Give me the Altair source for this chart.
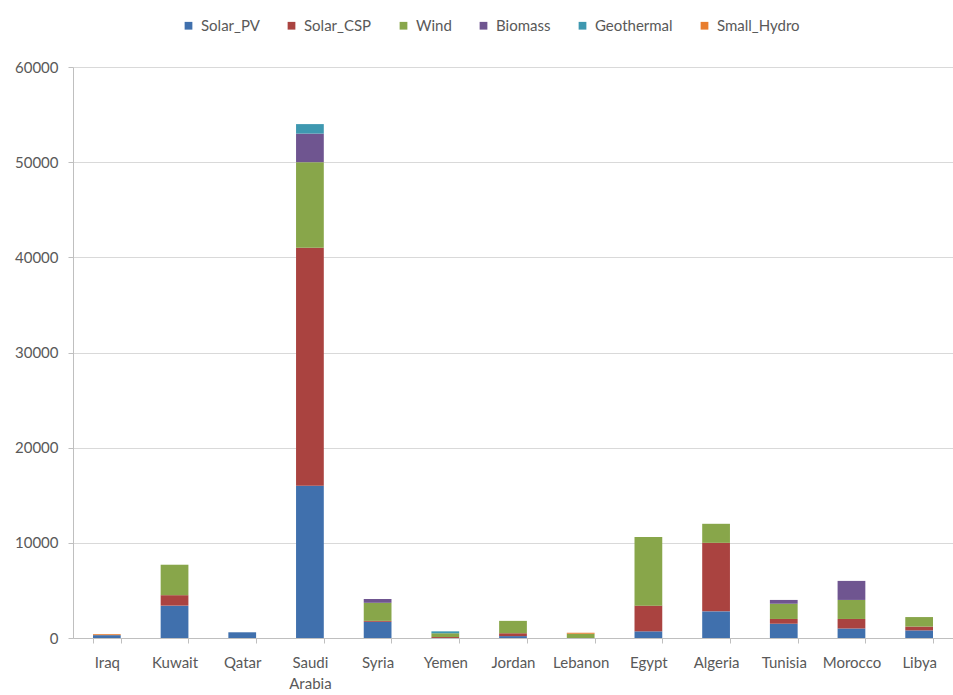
import altair as alt
import pandas as pd

countries = ["Iraq", "Kuwait", "Qatar", "Saudi Arabia", "Syria", "Yemen", "Jordan",
             "Lebanon", "Egypt", "Algeria", "Tunisia", "Morocco", "Libya"]
series = ["Solar_PV", "Solar_CSP", "Wind", "Biomass", "Geothermal", "Small_Hydro"]
colors = ["#4070AD", "#AA4340", "#88A64A", "#6F5590", "#3E98B0", "#E87D2E"]

solar_pv = [300, 3400, 600, 16000, 1700, 0, 200, 0, 700, 2800, 1500, 1000, 800]
solar_csp = [0, 1100, 0, 25000, 100, 100, 300, 0, 2700, 7200, 500, 1000, 400]
wind = [0, 3200, 0, 9000, 1900, 400, 1300, 450, 7200, 2000, 1600, 2000, 1000]
biomass = [0, 0, 0, 3000, 400, 0, 0, 0, 0, 0, 400, 2000, 0]
geothermal = [0, 0, 0, 1000, 0, 200, 0, 0, 0, 0, 0, 0, 0]
small_hydro = [100, 0, 0, 0, 0, 0, 0, 100, 0, 0, 0, 0, 0]

values = [solar_pv, solar_csp, wind, biomass, geothermal, small_hydro]
rows = []
for si, (name, vals) in enumerate(zip(series, values)):
    for c, v in zip(countries, vals):
        rows.append({"country": c, "source": name, "value": v, "order": si})
df = pd.DataFrame(rows)

FONT = "Lato"
TXT = "#595959"
FS = 15

chart = alt.Chart(df).mark_bar().encode(
    x=alt.X("country:N", sort=countries, title=None,
            scale=alt.Scale(paddingInner=0.59, paddingOuter=0.295),
            axis=alt.Axis(labelAngle=0, labelExpr="split(datum.label, ' ')",
                          tickBand="extent", tickSize=5, labelPadding=12,
                          labelFontSize=FS, labelColor=TXT, labelFont=FONT,
                          labelLineHeight=21,
                          domainColor="#bfbfbf", tickColor="#bfbfbf", grid=False)),
    y=alt.Y("value:Q", title=None, stack="zero",
            scale=alt.Scale(domain=[0, 60000], nice=False),
            axis=alt.Axis(values=[0, 10000, 20000, 30000, 40000, 50000, 60000],
                          format="d", tickSize=5, labelPadding=10,
                          labelFontSize=FS, labelColor=TXT, labelFont=FONT,
                          domainColor="#bfbfbf", tickColor="#bfbfbf",
                          gridColor="#d9d9d9")),
    color=alt.Color("source:N", sort=series,
                    scale=alt.Scale(domain=series, range=colors),
                    legend=alt.Legend(title=None, orient="none", direction="horizontal",
                                      legendX=108, legendY=-49,
                                      symbolType="square", symbolSize=60,
                                      symbolStrokeWidth=0,
                                      labelFontSize=FS, labelColor=TXT, labelFont=FONT,
                                      columnPadding=24, labelOffset=5)),
    order=alt.Order("order:Q", sort="ascending"),
).properties(
    width=880, height=571,
    padding={"left": 73, "top": 67, "right": 0, "bottom": 57},
    autosize=alt.AutoSizeParams(type="none"),
).configure_view(stroke=None)

chart.save("out.html", embed_options={"renderer": "svg", "actions": False})
